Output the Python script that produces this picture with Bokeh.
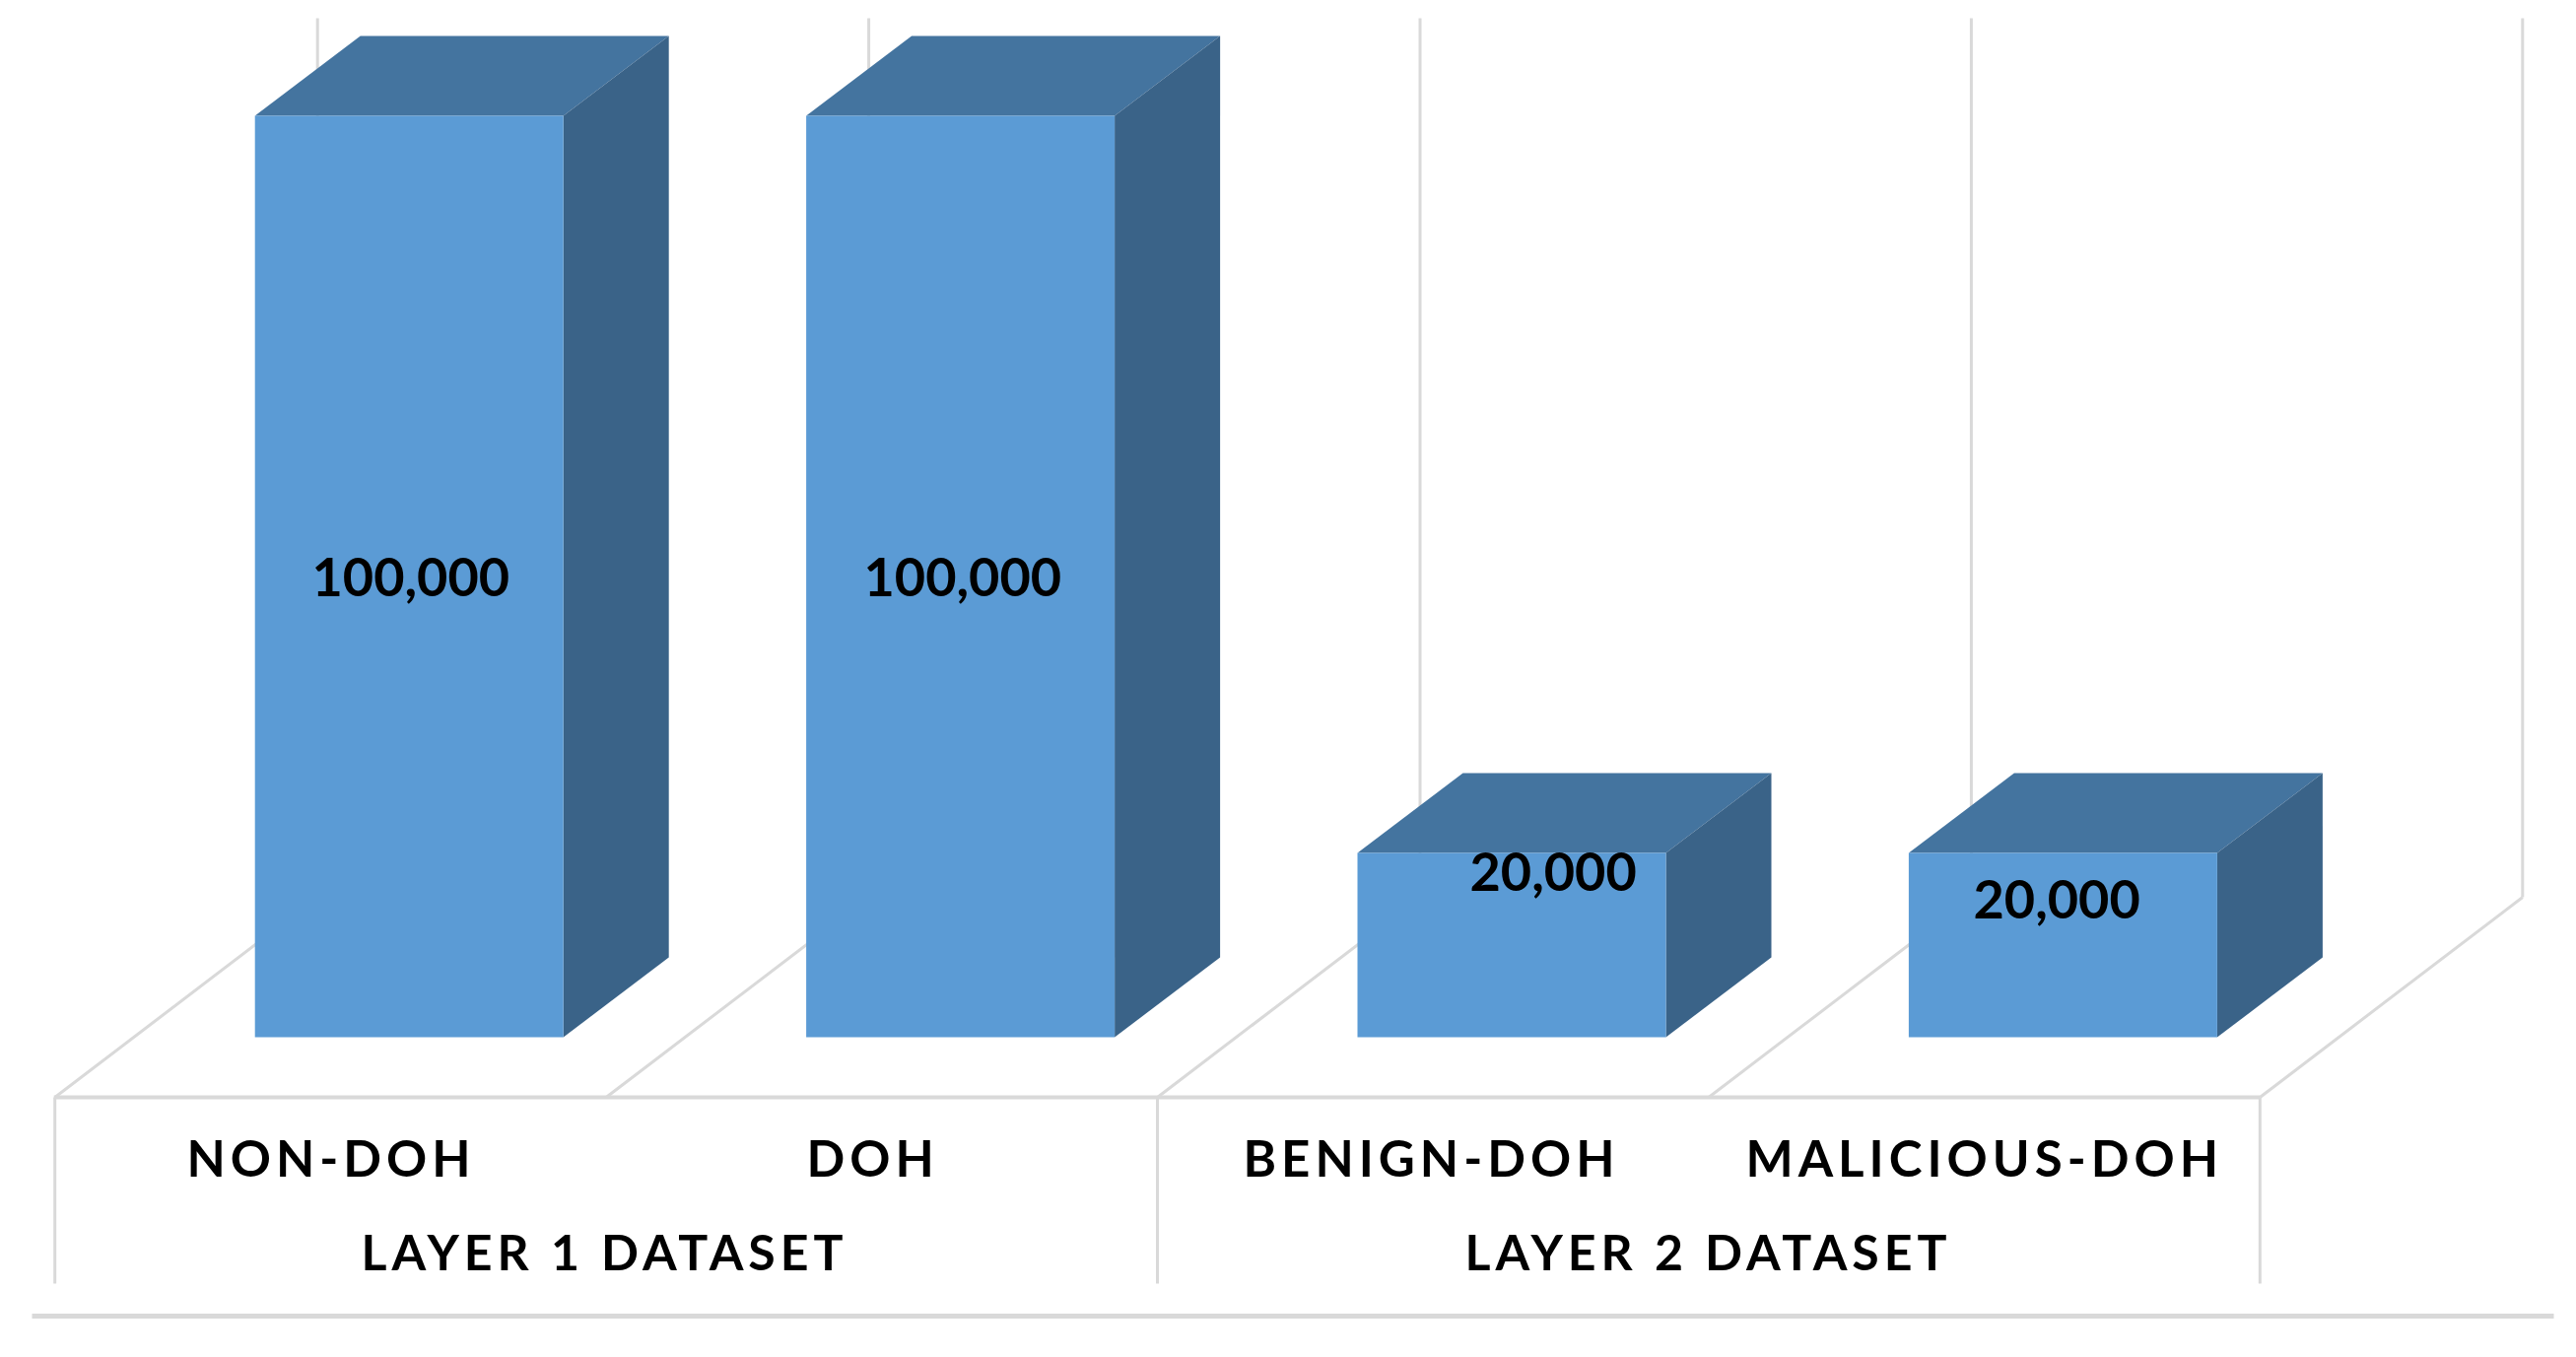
from bokeh.plotting import figure
from bokeh.layouts import column
from bokeh.models import Range1d
from bokeh.core.properties import value
from bokeh.embed import file_html
from bokeh.resources import INLINE

# ---- data ----
categories = ["NON-DOH", "DOH", "BENIGN-DOH", "MALICIOUS-DOH"]
counts = [100000, 100000, 20000, 20000]
count_labels = ["100,000", "100,000", "20,000", "20,000"]
groups = ["LAYER 1 DATASET", "LAYER 2 DATASET"]

# ---- geometry (pixels measured on the page, converted through the scales) ----
W, H = 2600, 1360
SLOT = 559.4          # px per category
X0 = 55.2             # page px of category slot 0
BASE = 1052.0         # page px of value 0
PPV = 935.0 / 100000  # px per unit of value

def X(px): return (px - X0) / SLOT
def Y(px): return (BASE - px) / PPV

BAR_OFFSET = 203.0 / SLOT
BAR_WIDTH = 313.0 / SLOT
DEPTH_X = 107.0 / SLOT
DEPTH_Y = 81.0 / PPV

FRONT, TOP, SIDE = "#5B9BD5", "#44749F", "#3A6388"
GRID = "#D9D9D9"
FLOOR_BACK = 910
FLOOR_FRONT = 1113
FLOOR_DX = 266.5

def base_figure():
    f = figure(width=W, height=H, output_backend="svg", toolbar_location=None,
               x_range=Range1d(X(0), X(W)), y_range=Range1d(Y(H), Y(0)),
               min_border=0, outline_line_color=None)
    f.axis.visible = False
    f.grid.visible = False
    return f

p = base_figure()
p.background_fill_color = "white"

# back wall gridlines and floor edges
for k in range(5):
    fx = X0 + k * SLOT
    bx = fx + FLOOR_DX
    p.line([X(bx), X(bx)], [Y(18), Y(FLOOR_BACK)], line_color=GRID, line_width=3)
    p.line([X(fx), X(bx)], [Y(FLOOR_FRONT), Y(FLOOR_BACK)], line_color=GRID, line_width=3)

# floor front edge, category dividers, baseline rule
p.line([X(X0 - 1), X(X0 + 4 * SLOT)], [Y(FLOOR_FRONT), Y(FLOOR_FRONT)], line_color=GRID, line_width=4)
for k in (0, 2, 4):
    fx = X0 + k * SLOT
    p.line([X(fx), X(fx)], [Y(FLOOR_FRONT), Y(1302)], line_color=GRID, line_width=3)
p.line([X(32), X(2591)], [Y(1335), Y(1335)], line_color=GRID, line_width=5)

# 3D bars from the data
for i, c in enumerate(counts):
    l = i + BAR_OFFSET
    r = l + BAR_WIDTH
    p.patch([l, r, r + DEPTH_X, l + DEPTH_X], [c, c, c + DEPTH_Y, c + DEPTH_Y],
            fill_color=TOP, line_color=None)
    p.patch([r, r + DEPTH_X, r + DEPTH_X, r], [0, DEPTH_Y, c + DEPTH_Y, c],
            fill_color=SIDE, line_color=None)
    p.vbar(x=[(l + r) / 2], top=[c], bottom=[0], width=BAR_WIDTH,
           fill_color=FRONT, line_color=None)

# value labels (hand-placed in the original)
label_px = [(316, 585), (876, 585), (1491, 884), (2002, 912)]
for t, (lx, ly) in zip(count_labels, label_px):
    p.text([X(lx)], [Y(ly)], text=[t], text_font=value("Lato"),
           text_font_style="bold", text_font_size="54px", text_color="#000000",
           text_align="left", text_baseline="alphabetic")

# category and group labels sit on a transparent overlay with wider letter spacing
q = base_figure()
q.background_fill_alpha = 0
q.border_fill_alpha = 0
q.styles = {"letter-spacing": "5px"}
q.margin = (-H, 0, 0, 0)

cat_left = [189, 818, 1261, 1771]
for t, lx in zip(categories, cat_left):
    q.text([X(lx)], [Y(1174)], text=[t], text_font=value("Lato"),
           text_font_style="bold", text_font_size="51px", text_color="#000000",
           text_align="left", text_baseline="alphabetic")
grp_left = [366, 1486]
for t, lx in zip(groups, grp_left):
    q.text([X(lx)], [Y(1269)], text=[t], text_font=value("Lato"),
           text_font_style="bold", text_font_size="50px", text_color="#000000",
           text_align="left", text_baseline="alphabetic")

open("out.html", "w").write(file_html(column(p, q), INLINE))
